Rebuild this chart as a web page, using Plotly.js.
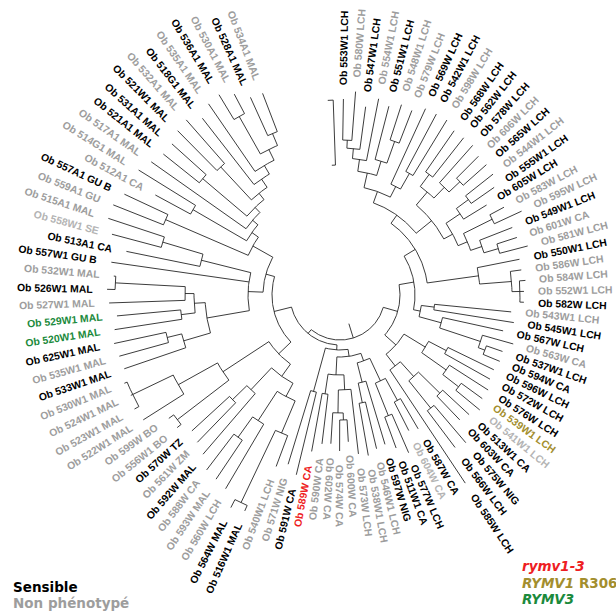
<!DOCTYPE html>
<html><head><meta charset="utf-8">
<script src="https://cdn.plot.ly/plotly-3.0.1.min.js"></script>
<style>html,body{margin:0;padding:0;background:#fff}#chart{width:616px;height:612px}</style>
</head><body><div id="chart"></div>
<script>
// ---------- DATA ----------
// leaves in clockwise order, starting just right of the top gap
const leafLabels = [
 "Ob 553W1 LCH","Ob 580W LCH","Ob 547W1 LCH","Ob 554W1 LCH","Ob 551W1 LCH","Ob 548W1 LCH","Ob 579W LCH",
 "Ob 569W LCH","Ob 542W1 LCH","Ob 598W LCH","Ob 568W LCH","Ob 562W LCH","Ob 578W LCH","Ob 606W LCH",
 "Ob 565W LCH","Ob 544W1 LCH","Ob 555W1 LCH","Ob 605W LCH","Ob 583W LCH","Ob 595W LCH","Ob 549W1 LCH",
 "Ob 601W CA","Ob 581W LCH","Ob 550W1 LCH","Ob 586W LCH","Ob 584W LCH","Ob 552W1 LCH","Ob 582W LCH",
 "Ob 543W1 LCH","Ob 545W1 LCH","Ob 567W LCH","Ob 563W CA","Ob 537W1 LCH","Ob 594W CA","Ob 596W LCH",
 "Ob 572W LCH","Ob 576W LCH","Ob 539W1 LCH","Ob 541W1 LCH","Ob 513W1 CA","Ob 603W CA","Ob 575W NIG",
 "Ob 566W LCH","Ob 585W LCH","Ob 587W CA","Ob 604W CA","Ob 577W LCH","Ob 511W1 CA","Ob 597W NIG",
 "Ob 546W1 LCH","Ob 538W1 LCH","Ob 573W LCH","Ob 600W CA","Ob 574W CA","Ob 602W CA","Ob 590W CA",
 "Ob 589W CA","Ob 591W CA","Ob 571W NIG","Ob 540W1 LCH","Ob 516W1 MAL","Ob 564W MAL","Ob 560W LCH",
 "Ob 593W MAL","Ob 588W CA","Ob 592W MAL","Ob 561W ZM","Ob 570W TZ","Ob 556W1 BO","Ob 599W BO",
 "Ob 522W1 MAL","Ob 523W1 MAL","Ob 524W1 MAL","Ob 530W1 MAL","Ob 533W1 MAL","Ob 535W1 MAL","Ob 625W1 MAL",
 "Ob 520W1 MAL","Ob 529W1 MAL","Ob 527W1 MAL","Ob 526W1 MAL","Ob 532W1 MAL","Ob 557W1 GU B","Ob 513A1 CA",
 "Ob 558W1 SE","Ob 515A1 MAL","Ob 559A1 GU","Ob 557A1 GU B","Ob 512A1 CA","Ob 514G1 MAL","Ob 517A1 MAL",
 "Ob 521A1 MAL","Ob 531A1 MAL","Ob 521W1 MAL","Ob 532A1 MAL","Ob 518G1 MAL","Ob 535A1 MAL","Ob 536A1 MAL",
 "Ob 530A1 MAL","Ob 528A1 MAL","Ob 534A1 MAL"
];
// S = Sensible, N = Non phénotypé, L = Non phénotypé (light), R = rymv1-3, O = RYMV1 R306, G = RYMV3
const leafGroups = [
 "S","N","S","N","S","N","N","S","S","N","S","S","S","N","S","N","S","S","N","N","S",
 "N","N","S","N","N","N","S","N","S","S","N","S","S","S","S","S","O","L","S","S","S",
 "S","S","S","L","S","S","S","N","N","N","N","N","N","N","R","S","N","N","S","S","N",
 "N","N","S","N","S","N","N","N","N","N","N","S","N","S","G","G","N","S","N","S","S",
 "L","N","N","S","N","N","N","S","S","S","N","S","N","S","N","S","N"
];
const groupColors = {S:"#000000", N:"#9d9d9d", L:"#b4b4b4", R:"#ee1d23", O:"#a38e2e", G:"#1b8a3c"};

// tree topology; number after ':' = node depth (distance from centre), leaves referenced by index
const cladeA1 = "(((1:196,2:204):155,3:190):147,4:200):137";
const cladeA2 = "(5:195,(6:200,7:198):163):140";
const cladeA4 = "(8:205,(9:205,10:205):140):122";
const cladeA6 = "((11:200,12:200):150,(13:200,(14:196,15:196):165):150):135";
const cladeA7 = "((16:195,17:188):160,18:172):145";
const cladeA8 = "((19:186,20:200):170,(21:185,(22:186,23:194):165):150):138";
const cladeA12 = "(24:183,(25:183,(26:186,27:184,28:184):180):172):140";
const cladeB1 = "(29:172,30:176):95";
const cladeB2 = "(31:167,(32:180,(33:172,34:173):155):148):105";
const cladeB4 = "((35:171,36:172):120,(37:176,(38:176,39:181):150):130):100";
const cladeB5 = "((40:176,41:173):140,(42:194,43:191):145):110";
const cladeRight = `((((((${cladeA1},${cladeA2}):125,${cladeA4}):110,(${cladeA6},(${cladeA7},${cladeA8}):128):118):98,${cladeA12}):88,(${cladeB1},${cladeB2}):82):75,(${cladeB4},(${cladeB5},44:226):90):75):60`;

const cladeC3 = "((45:155,46:152):120,(47:172,48:163):130):95";
const cladeC4 = "(49:156,(50:158,51:163):110):90";
const cladeC6 = "(52:160,((53:147,54:156):125,55:149):118):95";
const cladeC7 = "(56:150,57:159):100";
const cladeC9 = "(58:185,59:177):100";
const cladeBottom = `(((${cladeC3},${cladeC4}):70,(${cladeC6},${cladeC7}):80):62,${cladeC9}):55`;

const cladeD2 = "(60:183,(61:236,62:239):230):150";
const cladeD3 = "(63:225,(64:222,65:220):175):150";
const cladeD4 = "(66:210,(67:205,68:201):150):130";
const cladeD5 = "(69:210,70:211):205";
const cladeD6 = "(71:233,(72:235,73:232,74:233):230):185";
const cladeBottomLeft = `(((${cladeD2},${cladeD3}):115,${cladeD4}):100,(${cladeD5},${cladeD6}):140):85`;

const cladeE2 = "(75:228,(76:229,77:231):178):163";
const cladeE5 = "((78:228,79:224):160,(80:231,(81:233,82:227):225):155):146";
const cladeE8 = "(84:218,(85:236,86:244):185):143";
const cladeLeft = `((${cladeE2},${cladeE5}):135,83:231,${cladeE8}):92`;

const cladeF3 = "((98:234,99:227):205,(100:217,101:216):175):162";
const cladeTopLeft = `((87:244,88:238):190,((89:210,90:237):170,(91:231,((92:226,93:226):180,((94:231,95:233):175,(96:224,(97:232,${cladeF3}):150):140):130):122):115):108):100`;

const treeNewick = `(${cladeRight},(${cladeBottom},(${cladeBottomLeft},(${cladeLeft},${cladeTopLeft}):77):68):50):45`;

const rootStub = [30, 45];          // root edge (inner radius -> root depth)
const bracketDepths = [130, 195];   // isolated bracket in the top gap
const bracketAngle = -2;

const legendLeft = [{text:"Sensible", group:"S"}, {text:"Non phénotypé", group:"N"}];
const legendRight = [{text:"<i>rymv1-3</i>", group:"R"}, {text:"<i>RYMV1</i> R306", group:"O"}, {text:"<i>RYMV3</i>", group:"G"}];

// ---------- LAYOUT CONSTANTS ----------
const W = 616, H = 612, CX = 340, CY = 295;
const LEAF_START = 1, LEAF_STEP = 3.38;   // degrees clockwise from top
const LABEL_FONT = "Liberation Sans, Arial, sans-serif", LABEL_SIZE = 10.4, LABEL_GAP = 14;

// ---------- PARSE ----------
function parseNewick(s){
  let i = 0;
  function num(){ const j = i; while(i < s.length && /[0-9.\-]/.test(s[i])) i++; return parseFloat(s.slice(j, i)); }
  function node(){
    let n;
    if (s[i] === '('){
      i++; n = {children:[]};
      n.children.push(node());
      while (s[i] === ','){ i++; n.children.push(node()); }
      i++;
    } else { n = {leaf: num()}; }
    if (s[i] === ':'){ i++; n.depth = num(); }
    return n;
  }
  return node();
}
const root = parseNewick(treeNewick);

function place(n){
  if (n.children){
    n.children.forEach(place);
    n.angle = (n.children[0].angle + n.children[n.children.length-1].angle)/2;
  } else n.angle = LEAF_START + (n.leaf-1)*LEAF_STEP;
}
place(root);

const xs = [], ys = [];
function pt(r, a){ const t = a*Math.PI/180; return [r*Math.sin(t), r*Math.cos(t)]; }
function radial(a, r0, r1){ const p = pt(r0,a), q = pt(r1,a); xs.push(p[0], q[0], null); ys.push(p[1], q[1], null); }
function arc(r, a0, a1){
  const n = Math.max(2, Math.ceil(Math.abs(a1-a0)/0.75)+1);
  for (let k=0;k<n;k++){ const p = pt(r, a0 + (a1-a0)*k/(n-1)); xs.push(p[0]); ys.push(p[1]); }
  xs.push(null); ys.push(null);
}
const leaves = [];
function walk(n, pd){
  if (pd !== undefined && n.depth > pd) radial(n.angle, pd, n.depth);
  if (n.children){
    arc(n.depth, n.children[0].angle, n.children[n.children.length-1].angle);
    n.children.forEach(c => walk(c, n.depth));
  } else leaves.push(n);
}
walk(root);
radial(root.angle, rootStub[0], rootStub[1]);
radial(bracketAngle, bracketDepths[0], bracketDepths[1]);
arc(bracketDepths[0], bracketAngle-1.6, bracketAngle);
arc(bracketDepths[1], bracketAngle-1.6, bracketAngle);

// ---------- LABELS ----------
const ctx = document.createElement('canvas').getContext('2d');
ctx.font = `bold ${LABEL_SIZE}px "Liberation Sans"`;
const annotations = leaves.map(n => {
  const label = leafLabels[n.leaf-1];
  const w = ctx.measureText(label).width;
  const rc = n.depth + LABEL_GAP + w/2;
  const p = pt(rc, n.angle);
  const ang = n.angle < 185 ? n.angle - 90 : n.angle - 270;
  return {x:p[0], y:p[1], xref:'x', yref:'y', text:label, showarrow:false, textangle:ang,
    xanchor:'center', yanchor:'middle', borderpad:0,
    font:{family:LABEL_FONT, size:LABEL_SIZE, weight:'bold', color:groupColors[leafGroups[n.leaf-1]]}};
});
const legFont = "DejaVu Sans, sans-serif";
legendLeft.forEach((e,k) => annotations.push({xref:'paper', yref:'paper', x:12/W, y:1-(587+16*k)/H,
  xanchor:'left', yanchor:'middle', showarrow:false, text:e.text, borderpad:0,
  font:{family:legFont, size:13.5, weight:'bold', color:groupColors[e.group]}}));
legendRight.forEach((e,k) => annotations.push({xref:'paper', yref:'paper', x:521/W, y:1-(566+16.5*k)/H,
  xanchor:'left', yanchor:'middle', showarrow:false, text:e.text, borderpad:0,
  font:{family:legFont, size:13.5, weight:'bold', color:groupColors[e.group]}}));

Plotly.newPlot('chart', [{type:'scatter', mode:'lines', x:xs, y:ys, line:{color:'#262626', width:0.9}, hoverinfo:'skip'}], {
  width:W, height:H, margin:{l:0,r:0,t:0,b:0}, showlegend:false,
  paper_bgcolor:'#fff', plot_bgcolor:'#fff',
  xaxis:{range:[-CX, W-CX], visible:false, fixedrange:true},
  yaxis:{range:[-(H-CY), CY], visible:false, fixedrange:true},
  annotations
}, {staticPlot:true, displayModeBar:false});
</script></body></html>
